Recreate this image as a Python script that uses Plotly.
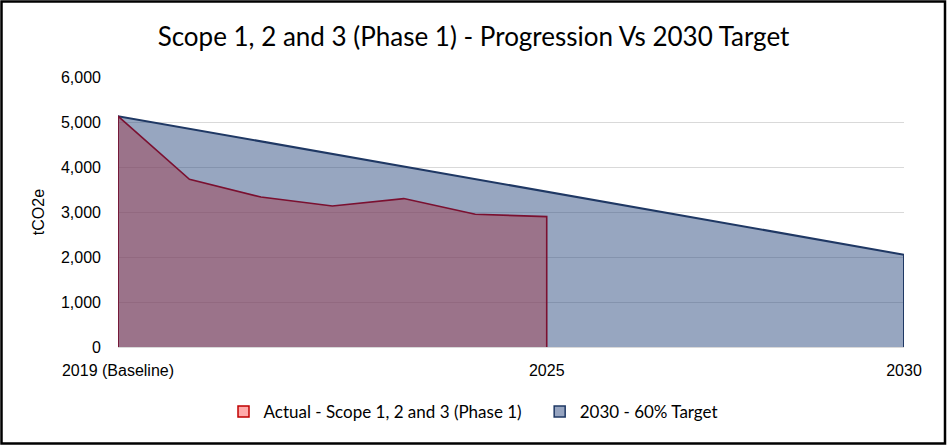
import plotly.graph_objects as go

actual_years = [2019, 2020, 2021, 2022, 2023, 2024, 2025]
actual_values = [5130, 3727, 3333, 3133, 3298, 2949, 2898]
target_years = [2019, 2030]
target_values = [5130, 2052]
tick_vals = [2019, 2025, 2030]
tick_text = ["2019 (Baseline)", "2025", "2030"]
actual_name = "Actual - Scope 1, 2 and 3 (Phase 1)"
target_name = "2030 - 60% Target"

W, H = 947, 445
ml, mr, mt, mb = 118, 43, 77, 98
pw, ph = W - ml - mr, H - mt - mb

def poly(xs, ys):
    return [xs[0]] + list(xs) + [xs[-1]], [0] + list(ys) + [0]

fig = go.Figure()
tx, ty = poly(target_years, target_values)
fig.add_trace(go.Scatter(x=tx, y=ty, mode="lines", fill="toself",
                         fillcolor="rgba(47,77,129,0.5)",
                         line=dict(color="#1F3864", width=2),
                         showlegend=False, hoverinfo="skip"))
ax, ay = poly(actual_years, actual_values)
fig.add_trace(go.Scatter(x=ax, y=ay, mode="lines", fill="toself",
                         fillcolor="rgba(159,64,84,0.5)",
                         line=dict(color="#7B1030", width=1.6),
                         showlegend=False, hoverinfo="skip"))
# legend entries
fig.add_trace(go.Scatter(x=[None], y=[None], mode="markers", name=actual_name + "   ",
                         marker=dict(symbol="square", size=11, color="#FFAAAA",
                                     line=dict(color="#C00000", width=1.5))))
fig.add_trace(go.Scatter(x=[None], y=[None], mode="markers", name=target_name,
                         marker=dict(symbol="square", size=11, color="#96A4C0",
                                     line=dict(color="#1F3864", width=1.5))))

fig.update_layout(
    width=W, height=H,
    margin=dict(l=ml, r=mr, t=mt, b=mb),
    paper_bgcolor="white", plot_bgcolor="white",
    title=dict(text="Scope 1, 2 and 3 (Phase 1) - Progression Vs 2030 Target",
               x=0.5, xanchor="center", y=1 - 37 / H, yanchor="middle",
               font=dict(family="Lato", size=26, color="#000000")),
    xaxis=dict(range=[2019, 2030], tickvals=tick_vals, ticktext=tick_text,
               showgrid=False, zeroline=False, showline=False, ticks="",
               tickfont=dict(family="Liberation Sans", size=16, color="#000"),
               ticklabelstandoff=12, fixedrange=True),
    yaxis=dict(range=[0, 6000], dtick=1000, tickformat=",d",
               showgrid=True, gridcolor="#D9D9D9", gridwidth=1,
               zeroline=True, zerolinecolor="#D9D9D9", zerolinewidth=1,
               showline=False, ticks="",
               tickfont=dict(family="Liberation Sans", size=16, color="#000"),
               ticklabelstandoff=16,
               title=dict(text="tCO2e", standoff=12,
                          font=dict(family="Liberation Sans", size=16, color="#000"))),
    legend=dict(orientation="h", xref="container", x=0.5, xanchor="center",
                yref="container", y=1 - 412 / H, yanchor="middle",
                font=dict(family="Lato", size=17, color="#000"),
                itemwidth=30, tracegroupgap=0),
    shapes=[dict(type="rect", xref="paper", yref="paper",
                 x0=-(ml - 1.5) / pw, x1=1 + (mr - 2) / pw,
                 y0=-(mb - 1.5) / ph, y1=1 + (mt - 1.5) / ph,
                 line=dict(color="black", width=2.5), layer="above")],
)
fig.write_html("out.html", config={"displayModeBar": False},
               post_script="document.body.style.margin='0';document.body.style.overflow='hidden';")
